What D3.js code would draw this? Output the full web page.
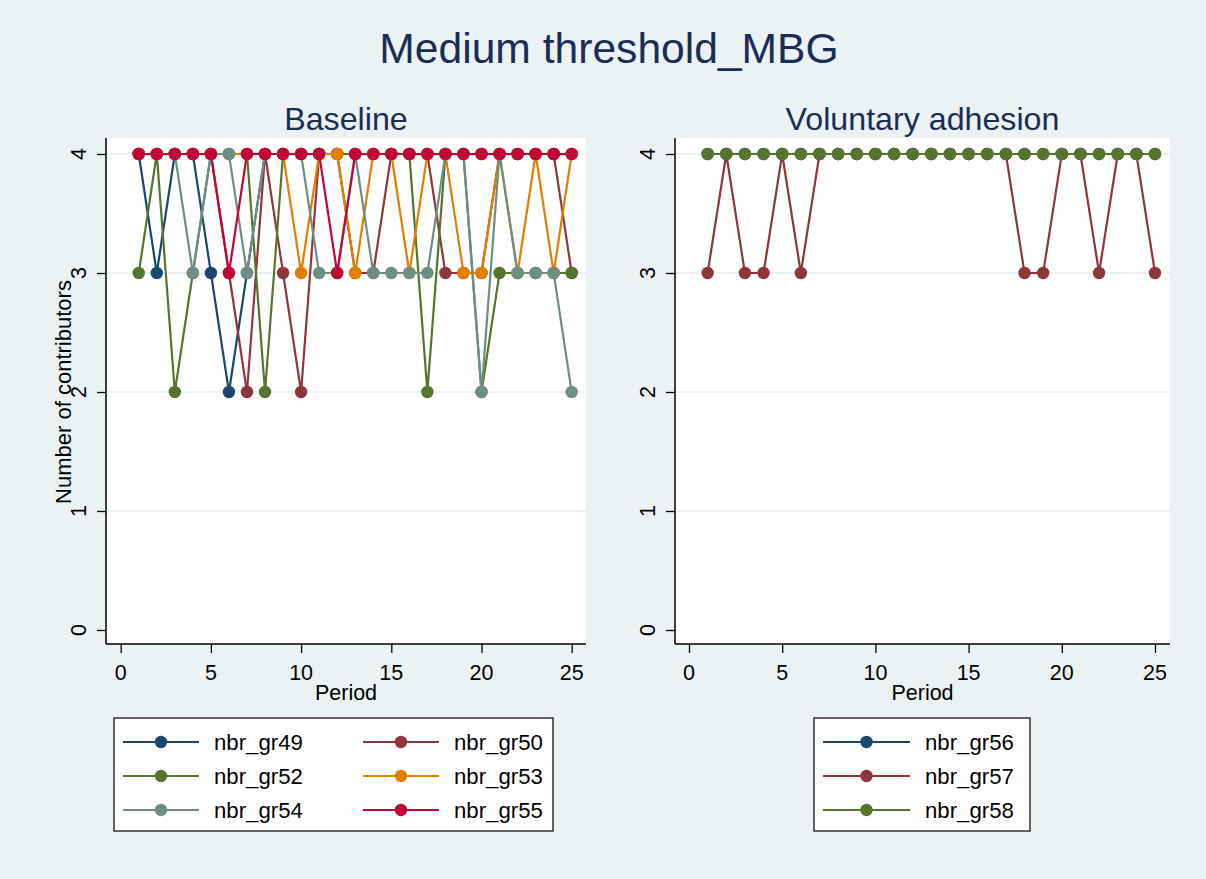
<!DOCTYPE html>
<html><head><meta charset="utf-8">
<script src="https://cdn.jsdelivr.net/npm/d3@7"></script>
<style>body{margin:0;background:#eaf2f3;}svg{display:block;font-family:"Liberation Sans",Arial,sans-serif;}</style>
</head><body>
<script>
const periods = [1,2,3,4,5,6,7,8,9,10,11,12,13,14,15,16,17,18,19,20,21,22,23,24,25];
const yTicks = [0,1,2,3,4];
const xTicks = [0,5,10,15,20,25];
const mainTitle = "Medium threshold_MBG";
const panelTitles = ["Baseline", "Voluntary adhesion"];
const yTitle = "Number of contributors";
const xTitle = "Period";

const baselineNames = ["nbr_gr49","nbr_gr50","nbr_gr52","nbr_gr53","nbr_gr54","nbr_gr55"];
const gr49 = [4,3,4,4,3,2,3,4,4,4,4,4,4,4,4,4,4,4,4,4,4,4,4,4,4];
const gr50 = [4,4,4,4,4,3,2,4,3,2,4,4,3,3,4,4,4,3,3,3,4,4,4,4,3];
const gr52 = [3,4,2,3,4,4,4,2,4,4,4,4,4,4,4,4,2,4,4,2,3,3,3,3,3];
const gr53 = [4,4,4,4,4,4,4,4,4,3,4,4,3,4,4,3,4,4,3,3,4,3,4,3,4];
const gr54 = [4,4,4,3,4,4,3,4,4,4,3,3,4,3,3,3,3,4,4,2,4,3,3,3,2];
const gr55 = [4,4,4,4,4,3,4,4,4,4,4,3,4,4,4,4,4,4,4,4,4,4,4,4,4];

const voluntaryNames = ["nbr_gr56","nbr_gr57","nbr_gr58"];
const gr56 = [4,4,4,4,4,4,4,4,4,4,4,4,4,4,4,4,4,4,4,4,4,4,4,4,4];
const gr57 = [3,4,3,3,4,3,4,4,4,4,4,4,4,4,4,4,4,3,3,4,4,3,4,4,3];
const gr58 = [4,4,4,4,4,4,4,4,4,4,4,4,4,4,4,4,4,4,4,4,4,4,4,4,4];

const palette6 = ["#1a476f","#90353b","#55752f","#e37e00","#6e8e84","#c10534"];
const palette3 = ["#1a476f","#90353b","#55752f"];

const W = 1206, H = 879;
const svg = d3.select("body").append("svg").attr("width", W).attr("height", H);
svg.append("rect").attr("width", W).attr("height", H).attr("fill", "#eaf2f3");
const titleColor = "#1c2d55";

svg.append("text").attr("x", 609).attr("y", 63).attr("text-anchor", "middle")
  .attr("font-size", 42.6).attr("fill", titleColor).text(mainTitle);

function panel(opts) {
  const {x0, x1, y0, y1, zeroX, fullX, series, names, colors, title, showYTitle, tickLabelX, legend} = opts;
  const g = svg.append("g");
  g.append("rect").attr("x", x0).attr("y", y0).attr("width", x1 - x0).attr("height", y1 - y0).attr("fill", "#fff");
  const unitX = (fullX - zeroX) / 25;
  const x = d3.scaleLinear().domain([(x0 - zeroX) / unitX, (x1 - zeroX) / unitX]).range([x0, x1]);
  const unitY = (630 - 154) / 4;
  const y = d3.scaleLinear().domain([(630 - y1) / unitY, (630 - y0) / unitY]).range([y1, y0]);

  // gridlines
  g.selectAll(".grid").data(yTicks.filter(d => d > 0)).enter().append("line")
    .attr("x1", x0).attr("x2", x1).attr("y1", d => y(d)).attr("y2", d => y(d))
    .attr("stroke", "#eaf2f3").attr("stroke-width", 2);

  // axes
  const ya = g.append("g").attr("transform", `translate(${x0},0)`)
    .call(d3.axisLeft(y).tickValues(yTicks).tickSize(9).tickFormat(""));
  ya.select(".domain").attr("d", `M0,${y0}V${y1}`).attr("stroke", "#000").attr("stroke-width", 1.5);
  ya.selectAll(".tick line").attr("stroke", "#000").attr("stroke-width", 1.3);
  const xa = g.append("g").attr("transform", `translate(0,${y1})`)
    .call(d3.axisBottom(x).tickValues(xTicks).tickSize(9).tickFormat(""));
  xa.select(".domain").attr("d", `M${x0},0H${x1}`).attr("stroke", "#000").attr("stroke-width", 1.5);
  xa.selectAll(".tick line").attr("stroke", "#000").attr("stroke-width", 1.3);

  // tick labels
  g.selectAll(".ylab").data(yTicks).enter().append("text")
    .attr("transform", d => `translate(${tickLabelX},${y(d)}) rotate(-90)`)
    .attr("text-anchor", "middle").attr("font-size", 21.5).attr("fill", "#000").text(d => d);
  g.selectAll(".xlab").data(xTicks).enter().append("text")
    .attr("x", d => x(d)).attr("y", 680).attr("text-anchor", "middle")
    .attr("font-size", 21.5).attr("fill", "#000").text(d => d);
  g.append("text").attr("x", (x0 + x1) / 2).attr("y", 700).attr("text-anchor", "middle")
    .attr("font-size", 21.5).attr("fill", "#000").text(xTitle);
  if (showYTitle) {
    g.append("text").attr("transform", `translate(71,392) rotate(-90)`)
      .attr("text-anchor", "middle").attr("font-size", 22).attr("fill", "#000").text(yTitle);
  }
  g.append("text").attr("x", (x0 + x1) / 2).attr("y", 130).attr("text-anchor", "middle")
    .attr("font-size", 32.2).attr("fill", titleColor).text(title);

  // series
  const line = d3.line().x((d, i) => x(periods[i])).y(d => y(d));
  series.forEach((s, k) => {
    g.append("path").attr("d", line(s)).attr("fill", "none")
      .attr("stroke", colors[k]).attr("stroke-width", 2.2);
    g.selectAll(null).data(s).enter().append("circle")
      .attr("cx", (d, i) => x(periods[i])).attr("cy", d => y(d)).attr("r", 6.2)
      .attr("fill", colors[k]);
  });

  // legend
  const L = legend;
  g.append("rect").attr("x", L.x).attr("y", 718).attr("width", L.w).attr("height", 113)
    .attr("fill", "#fff").attr("stroke", "#000").attr("stroke-width", 1.2);
  names.forEach((n, k) => {
    const col = k % L.cols, row = Math.floor(k / L.cols);
    const ly = 742 + row * 34;
    const lx = L.x + 9 + col * L.colW;
    g.append("line").attr("x1", lx).attr("x2", lx + L.lineW).attr("y1", ly).attr("y2", ly)
      .attr("stroke", colors[k]).attr("stroke-width", 2.2);
    g.append("circle").attr("cx", lx + L.lineW / 2).attr("cy", ly).attr("r", 6.2).attr("fill", colors[k]);
    g.append("text").attr("x", lx + L.lineW + 15).attr("y", ly + 8).attr("font-size", 22.2)
      .attr("fill", "#000").text(n);
  });
}

panel({x0: 106, x1: 586, y0: 138, y1: 644, zeroX: 120.7, fullX: 571.7,
  series: [gr49, gr50, gr52, gr53, gr54, gr55], names: baselineNames, colors: palette6,
  title: panelTitles[0], showYTitle: true, tickLabelX: 86,
  legend: {x: 114, w: 439, cols: 2, colW: 240, lineW: 76}});
panel({x0: 675, x1: 1170, y0: 138, y1: 644, zeroX: 689, fullX: 1155,
  series: [gr56, gr57, gr58], names: voluntaryNames, colors: palette3,
  title: panelTitles[1], showYTitle: false, tickLabelX: 655,
  legend: {x: 814, w: 216, cols: 1, colW: 0, lineW: 87}});
</script>
</body></html>
